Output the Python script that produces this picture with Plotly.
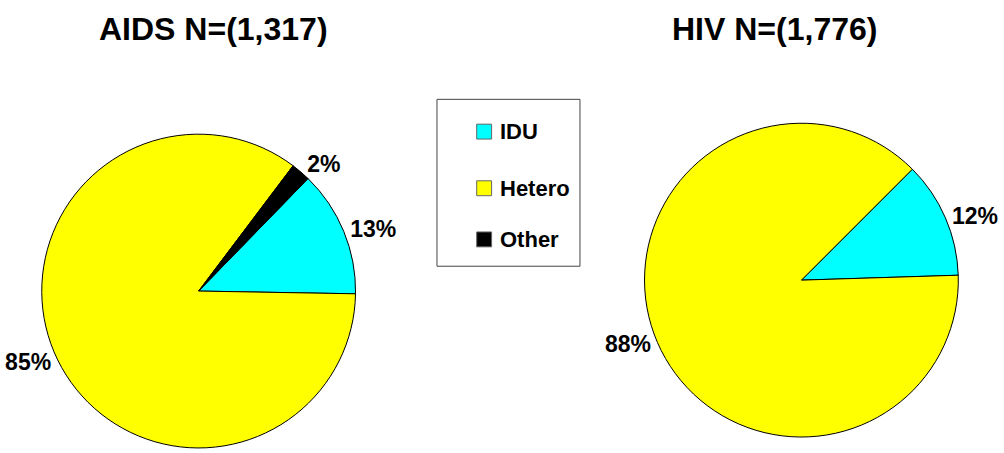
import plotly.graph_objects as go

# ---- data ----
aids_categories = ["IDU", "Hetero", "Other"]
aids_pct = [13, 85, 2]
hiv_categories = ["IDU", "Hetero"]
hiv_pct = [12, 88]
legend_categories = ["IDU", "Hetero", "Other"]
titles = ["AIDS N=(1,317)", "HIV N=(1,776)"]

colors = {"IDU": "#00FFFF", "Hetero": "#FFFF00", "Other": "#000000"}
FONT = "Arial, 'Liberation Sans', sans-serif"
W, H = 1004, 453


def px_x(x):
    return x / W


def px_y(y):
    return 1 - y / H


fig = go.Figure()

fig.add_trace(go.Pie(
    labels=aids_categories, values=aids_pct, sort=False,
    direction="clockwise", rotation=44.2,
    marker=dict(colors=[colors[c] for c in aids_categories],
                line=dict(color="#000000", width=1)),
    texttemplate="%{value}%", textposition="outside",
    outsidetextfont=dict(family=FONT, size=23, color="#000000", weight="bold"),
    domain=dict(x=[px_x(35), px_x(351)], y=[px_y(451), px_y(135)]),
    hoverinfo="skip", showlegend=False,
))

fig.add_trace(go.Pie(
    labels=hiv_categories, values=hiv_pct, sort=False,
    direction="clockwise", rotation=45,
    marker=dict(colors=[colors[c] for c in hiv_categories],
                line=dict(color="#000000", width=1)),
    texttemplate="%{value}%", textposition="outside",
    outsidetextfont=dict(family=FONT, size=23, color="#000000", weight="bold"),
    domain=dict(x=[px_x(642), px_x(958)], y=[px_y(440), px_y(124)]),
    hoverinfo="skip", showlegend=False,
))

annotations = []
shapes = []
for t, cx in zip(titles, [208, 773]):
    annotations.append(dict(
        text=f"<b>{t}</b>", x=px_x(cx), y=px_y(29), xref="paper", yref="paper",
        xanchor="center", yanchor="middle", showarrow=False,
        font=dict(family=FONT, size=32, color="#000000")))

# legend box drawn by hand (square swatches, wide row spacing)
shapes.append(dict(type="rect", xref="paper", yref="paper",
                   x0=px_x(433), x1=px_x(577), y0=px_y(268), y1=px_y(100),
                   line=dict(color="#444444", width=1), fillcolor="white"))
legend_rows = [132.5, 189.5, 241]
for cat, yc in zip(legend_categories, legend_rows):
    shapes.append(dict(type="rect", xref="paper", yref="paper",
                       x0=px_x(473), x1=px_x(488), y0=px_y(yc + 7.5), y1=px_y(yc - 7.5),
                       line=dict(color="#666666", width=1), fillcolor=colors[cat]))
    annotations.append(dict(
        text=f"<b>{cat}</b>", x=px_x(494), y=px_y(yc), xref="paper", yref="paper",
        xanchor="left", yanchor="middle", showarrow=False,
        font=dict(family=FONT, size=22, color="#000000")))

fig.update_layout(
    width=W, height=H,
    margin=dict(l=0, r=0, t=0, b=0),
    paper_bgcolor="white", plot_bgcolor="white",
    annotations=annotations, shapes=shapes,
    showlegend=False,
)

fig.write_html("out.html", config={"displayModeBar": False},
               post_script="document.body.style.margin='0px';document.body.style.overflow='hidden';")
